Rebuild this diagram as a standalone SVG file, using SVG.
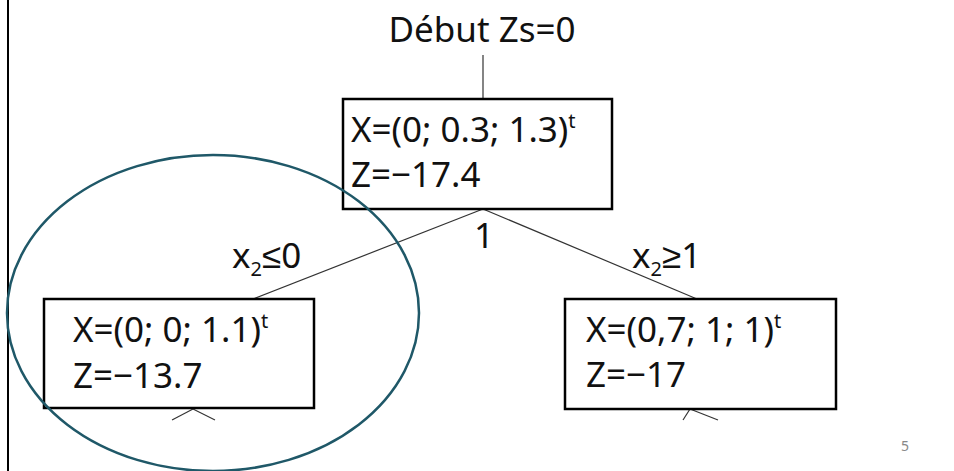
<svg xmlns="http://www.w3.org/2000/svg" width="954" height="471" viewBox="0 0 954 471">
<style>
text{font-family:"Noto Sans","Liberation Sans",sans-serif;fill:#111}
.t{font-size:35px}
.sup{font-size:20px}
.box{fill:#fff;stroke:#000;stroke-width:2.5}
.edge{stroke:#333;stroke-width:1.2;fill:none}
</style>
<rect width="954" height="471" fill="#fff"/>
<line x1="8" y1="0" x2="8" y2="471" stroke="#000" stroke-width="2"/>
<g id="connectors">
<line class="edge" x1="483" y1="55" x2="483" y2="99"/>
<line class="edge" x1="483" y1="209" x2="253" y2="299"/>
<line class="edge" x1="483" y1="209" x2="697" y2="299"/>
<line class="edge" x1="193" y1="409" x2="172" y2="420"/>
<line class="edge" x1="193" y1="409" x2="215" y2="420"/>
<line class="edge" x1="690" y1="409" x2="683" y2="420"/>
<line class="edge" x1="690" y1="409" x2="718" y2="420"/>
<text class="t" x="484" y="248" text-anchor="middle">1</text>
<text class="t" x="232" y="268">x<tspan class="sup" dy="8">2</tspan><tspan dy="-8">≤0</tspan></text>
<text class="t" x="632" y="268">x<tspan class="sup" dy="8">2</tspan><tspan dy="-8">≥1</tspan></text>
</g>
<g id="start">
<text class="t" x="482" y="42" text-anchor="middle">Début Zs=0</text>
</g>
<g id="root">
<rect class="box" x="343" y="99" width="269" height="110"/>
<text class="t" x="351" y="142">X=(0; 0.3; 1.3)<tspan class="sup" dy="-14">t</tspan></text>
<text class="t" x="351" y="187">Z=−17.4</text>
</g>
<g id="left">
<rect class="box" x="44" y="299" width="270" height="109"/>
<text class="t" x="73" y="342">X=(0; 0; 1.1)<tspan class="sup" dy="-14">t</tspan></text>
<text class="t" x="73" y="388">Z=−13.7</text>
</g>
<g id="right">
<rect class="box" x="565" y="299" width="271" height="110"/>
<text class="t" x="586" y="342">X=(0,7; 1; 1)<tspan class="sup" dy="-14">t</tspan></text>
<text class="t" x="586" y="387">Z=−17</text>
</g>
<ellipse cx="213" cy="313" rx="206" ry="158" fill="none" stroke="#1f5868" stroke-width="2.5"/>
<text x="905" y="451" text-anchor="middle" style="font-size:14px;fill:#888">5</text>
</svg>
